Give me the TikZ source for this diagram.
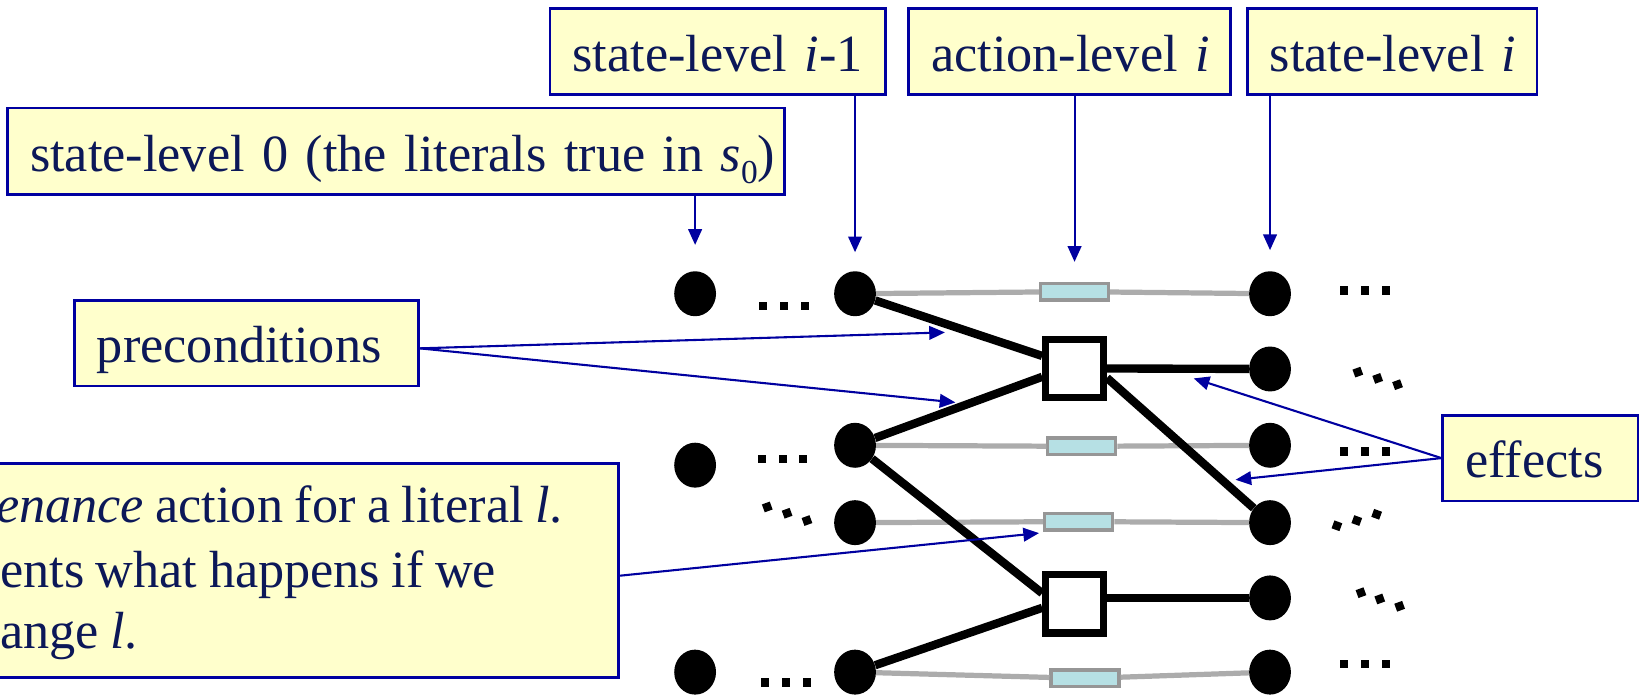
\documentclass[tikz,border=0pt]{standalone}
\usepackage{fontspec}
\setmainfont{Liberation Serif}
\usetikzlibrary{shapes.geometric,arrows.meta,calc}
\definecolor{boxfill}{RGB}{255,255,204}
\definecolor{boxline}{RGB}{0,0,160}
\definecolor{txt}{RGB}{12,24,88}
\definecolor{grayln}{RGB}{172,172,172}
\definecolor{actfill}{RGB}{182,224,228}
\definecolor{actline}{RGB}{150,150,150}
\newcommand{\bigfont}{\fontsize{50}{60}\selectfont\spaceskip=0.22em\relax}
\begin{document}
\begin{tikzpicture}[x=1pt,y=-1pt,
  ybox/.style={draw=boxline, line width=2.5pt, fill=boxfill, text=txt, font=\bigfont, anchor=north west, minimum height=82pt, text height=38pt, text depth=0pt, inner xsep=21.5pt, inner ysep=0pt, align=left},
  mtext/.style={text=txt, font=\bigfont, inner sep=0pt, anchor=base west},
  dot/.style={ellipse, fill=black, minimum width=40pt, minimum height=43pt, inner sep=0pt},
  act/.style={rectangle, fill=actfill, draw=actline, line width=3pt, minimum width=65pt, minimum height=16pt, inner sep=0pt},
  sq/.style={rectangle, fill=white, draw=black, line width=7pt, minimum width=55pt, minimum height=56pt, inner sep=0pt},
  gry/.style={draw=grayln, line width=5pt},
  blk/.style={draw=black, line width=8pt},
  ptr/.style={draw=boxline, line width=2pt, -{Triangle[length=15pt,width=13pt]}},
]
\useasboundingbox (0,0) rectangle (1568,665);

% label boxes
\node[ybox, text width=278pt] (b1) at (525,7) {\mbox{state-level \textit{i}-1}};
\node[ybox, text width=265pt] (b2) at (868,7) {\mbox{action-level \textit{i}}};
\node[ybox, text width=234pt] (b3) at (1192,7) {\mbox{state-level \textit{i}}};
\node[ybox, text width=700pt, minimum height=83pt] (b0) at (6,102) {\mbox{state-level 0 (the literals true in \textit{s}\raisebox{-12pt}{\fontsize{32}{32}\selectfont 0})}};
\node[ybox, text width=286pt] (bp) at (70,286) {preconditions};
\node[ybox, text width=144pt] (be) at (1379,396) {effects};
\node[ybox, anchor=north east, minimum width=800pt, minimum height=205pt] (mb) at (593,442) {};
\node[mtext] (m1) at (-4,500) {\textit{enance} action for a literal \textit{l}.};
\node[mtext] (m2) at (0,562) {ents what happens if we};
\node[mtext] (m3) at (0,620) {ange \textit{l}.};

% literals
\node[dot] (c0r1) at (665,281) {};
\node[dot] (c0r3) at (665,445) {};
\node[dot] (c0r6) at (665,643) {};
\node[dot] (c1r1) at (818,281) {};
\node[dot] (c1r3) at (818,426) {};
\node[dot] (c1r4) at (818,500) {};
\node[dot] (c1r6) at (818,643) {};
\node[dot] (c2r1) at (1215,281) {};
\node[dot] (c2r2) at (1215,353) {};
\node[dot] (c2r3) at (1215,426) {};
\node[dot] (c2r4) at (1215,500) {};
\node[dot] (c2r5) at (1215,572) {};
\node[dot] (c2r6) at (1215,643) {};

% maintenance actions and actions
\node[act] (ar1) at (1028,279) {};
\node[act] (ar3) at (1035,427) {};
\node[act] (ar4) at (1032,499) {};
\node[act] (ar6) at (1038,649) {};
\node[sq] (sq1) at (1028,352.5) {};
\node[sq] (sq2) at (1028,577.5) {};

% gray maintenance links
\draw[gry] (c1r1) -- (ar1);
\draw[gry] (ar1) -- (c2r1);
\draw[gry] (c1r3) -- (ar3);
\draw[gry] (ar3) -- (c2r3);
\draw[gry] (c1r4) -- (ar4);
\draw[gry] (ar4) -- (c2r4);
\draw[gry] (c1r6) -- (ar6);
\draw[gry] (ar6) -- (c2r6);

% precondition and effect links
\draw[blk] (c1r1) -- ($(sq1.west)+(0,-12)$);
\draw[blk] (c1r3) -- ($(sq1.west)+(0,8)$);
\draw[blk] (c1r3) -- ($(sq2.west)+(0,-10)$);
\draw[blk] (c1r6) -- ($(sq2.west)+(0,4)$);
\draw[blk] (sq1.east) -- (c2r2);
\draw[blk] ($(sq1.east)+(0,9)$) -- (c2r4);
\draw[blk] ($(sq2.east)+(0,-5.5)$) -- (c2r5);

% ellipsis dots
\foreach \x/\y/\r in {730/293/0, 750/293/0, 770/293/0,
  729/439/0, 749/439/0, 768/439/0,
  734/485/20, 753/491/20, 772/498/20,
  732/653/0, 752/653/0, 772/653/0,
  1286/278/0, 1306/278/0, 1326/278/0,
  1299/356/20, 1318/362/20, 1337/368/20,
  1286/432/0, 1306/432/0, 1326/432/0,
  1279/503/-20, 1298/498/-20, 1317/492/-20,
  1302/567/20, 1320/573/20, 1339/580/20,
  1286/635/0, 1306/635/0, 1326/635/0}
  \fill[black, rotate around={\r:(\x,\y)}] (\x-4,\y-4) rectangle (\x+4,\y+4);

% pointers
\coordinate (pc1) at (904,318);
\coordinate (pc2) at (914,385);
\coordinate (ef1) at (1142,362);
\coordinate (ef2) at (1182,459);
\coordinate (mt) at (994,510);
\draw[ptr] (b0.south -| c0r1) -- ($(c0r1.north)+(0,-25)$);
\draw[ptr] (b1.south -| c1r1) -- ($(c1r1.north)+(0,-18)$);
\draw[ptr] (b2.south -| ar1) -- ($(ar1.north)+(0,-19)$);
\draw[ptr] (b3.south -| c2r1) -- ($(c2r1.north)+(0,-20)$);
\draw[ptr] ($(bp.east)+(0,5)$) -- (pc1);
\draw[ptr] ($(bp.east)+(0,5)$) -- (pc2);
\draw[ptr] (be.west) -- (ef1);
\draw[ptr] (be.west) -- (ef2);
\draw[ptr] ($(mb.east)+(0,5)$) -- (mt);
\end{tikzpicture}
\end{document}
